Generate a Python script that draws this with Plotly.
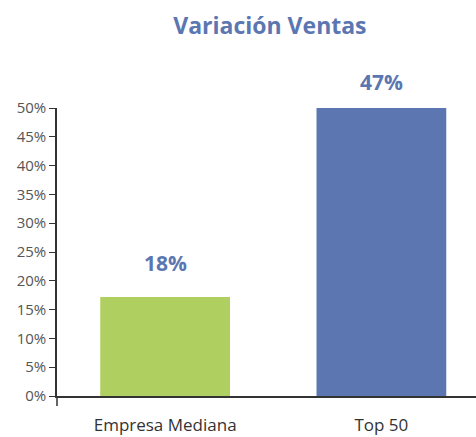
import plotly.graph_objects as go

categories = ["Empresa Mediana", "Top 50"]
bar_values = [17.2, 50]
bar_labels = ["18%", "47%"]
bar_colors = ["#afcf61", "#5b76b0"]
y_tickvals = [0, 5, 10, 15, 20, 25, 30, 35, 40, 45, 50]
y_ticktext = [f"{v}%" for v in y_tickvals]

FONT = "Open Sans"
BLUE = "#5b76b0"
label_shifts = [18, 10]

fig = go.Figure()
fig.add_trace(go.Bar(
    x=categories, y=bar_values, width=0.6,
    marker=dict(color=bar_colors, line=dict(width=0)),
    hoverinfo="skip",
))
for cat, val, lab, sh in zip(categories, bar_values, bar_labels, label_shifts):
    fig.add_annotation(x=cat, y=val, text=f"<b>{lab}</b>", showarrow=False,
                       yanchor="bottom", yshift=sh,
                       font=dict(family=FONT, size=21, color=BLUE))

fig.update_layout(
    width=476, height=437,
    margin=dict(l=57, r=0, t=108, b=41, autoexpand=False),
    plot_bgcolor="white", paper_bgcolor="white",
    showlegend=False,
    title=dict(text="<b>Variación Ventas</b>", x=0.567, xanchor="center", y=0.94, yanchor="middle",
               font=dict(family=FONT, size=23, color=BLUE)),
    xaxis=dict(range=[-0.5, 1.4375], showline=True, linecolor="#333333", linewidth=1.5,
               ticks="", showgrid=False, ticklabelstandoff=13, automargin=False,
               tickfont=dict(family=FONT, size=17, color="#333333")),
    yaxis=dict(range=[0, 50], tickvals=y_tickvals, ticktext=y_ticktext,
               showline=True, linecolor="#333333", linewidth=1.5,
               ticks="outside", ticklen=6, tickcolor="#333333", tickwidth=1,
               showgrid=False, zeroline=False, automargin=False,
               tickfont=dict(family=FONT, size=15, color="#555555")),
)
fig.add_shape(type="line", xref="paper", yref="paper", x0=0, x1=0, y0=-0.035, y1=0,
              line=dict(color="#333333", width=1.5))

fig.write_html("out.html", config={"displayModeBar": False},
               post_script="document.body.style.margin='0';")
